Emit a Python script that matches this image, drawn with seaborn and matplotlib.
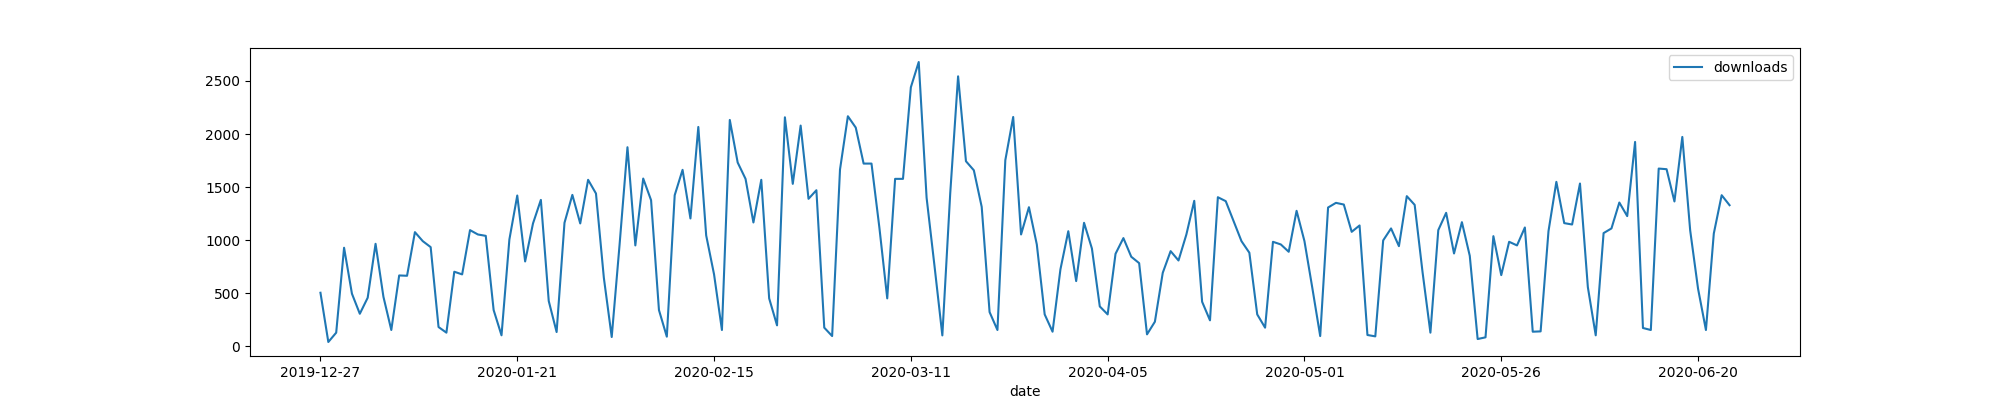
import numpy as np
import pandas as pd
import matplotlib
matplotlib.use('Agg')
import matplotlib.pyplot as plt
import seaborn as sns

# daily downloads
downloads = [
    505, 41, 129, 929, 496, 307, 458, 966, 467, 154,
    668, 665, 1076, 991, 935, 182, 129, 703, 678, 1095,
    1054, 1041, 342, 104, 1007, 1421, 800, 1158, 1380, 427,
    135, 1164, 1427, 1158, 1569, 1440, 646, 88, 960, 1876,
    951, 1581, 1377, 342, 91, 1424, 1663, 1205, 2067, 1045,
    678, 154, 2133, 1732, 1578, 1167, 1569, 452, 198, 2158,
    1531, 2080, 1390, 1471, 176, 97, 1666, 2168, 2061, 1722,
    1722, 1120, 452, 1578, 1578, 2441, 2679, 1400, 760, 103,
    1440, 2544, 1744, 1659, 1314, 323, 154, 1754, 2161, 1054,
    1311, 960, 301, 138, 725, 1085, 615, 1164, 922, 376,
    301, 872, 1020, 844, 784, 113, 232, 693, 897, 809,
    1054, 1371, 420, 245, 1405, 1368, 1180, 991, 882, 301,
    176, 985, 960, 891, 1277, 991, 550, 97, 1308, 1352,
    1336, 1079, 1139, 107, 94, 998, 1111, 944, 1415, 1333,
    700, 129, 1095, 1258, 875, 1170, 853, 69, 85, 1038,
    671, 985, 951, 1120, 138, 141, 1085, 1550, 1161, 1148,
    1534, 558, 104, 1067, 1111, 1355, 1227, 1926, 173, 154,
    1675, 1669, 1365, 1973, 1092, 543, 154, 1063, 1424, 1330,
]

# one day in April is missing from the series
all_days = pd.date_range('2019-12-27', '2020-06-24', freq='D')
dates = [d.strftime('%Y-%m-%d') for d in all_days if d != pd.Timestamp('2020-04-12')]

df = pd.DataFrame({'date': dates, 'downloads': downloads})
df['pos'] = np.arange(len(df))

fig, ax = plt.subplots(figsize=(20, 4), dpi=100)
sns.lineplot(data=df, x='pos', y='downloads', ax=ax, label='downloads')

tick_pos = df['pos'][::25]
ax.set_xticks(tick_pos)
ax.set_xticklabels(df['date'][::25])
ax.set_xlabel('date')
ax.set_ylabel('')
ax.legend(loc='upper right')

plt.savefig('out.png', dpi=100)
